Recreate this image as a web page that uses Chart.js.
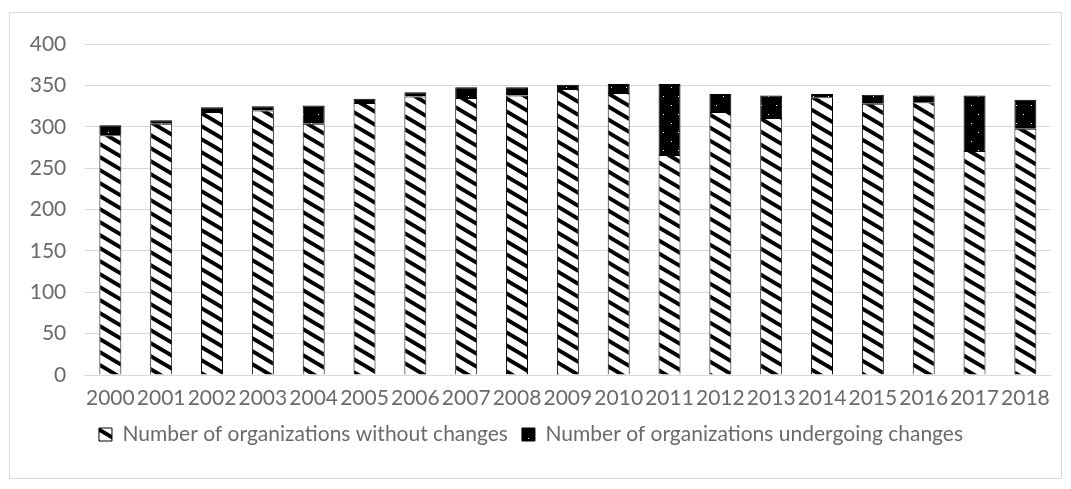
<!DOCTYPE html>
<html>
<head>
<meta charset="utf-8">
<script src="https://cdn.jsdelivr.net/npm/chart.js@4"></script>
<style>
  html, body { margin: 0; padding: 0; background: #fff; }
  #frame {
    position: absolute;
    left: 9px; top: 12px;
    width: 1053px; height: 467px;
    border: 1px solid #d9d9d9;
    box-sizing: border-box;
  }
</style>
</head>
<body>
<div id="frame"><canvas id="barChart"></canvas></div>
<script>
// values
const years = ['2000', '2001', '2002', '2003', '2004', '2005', '2006', '2007', '2008', '2009',
               '2010', '2011', '2012', '2013', '2014', '2015', '2016', '2017', '2018'];
const withoutChanges = [290, 304, 318, 320, 304, 329, 337, 335, 338, 346, 341, 266, 318, 311, 336, 328, 330, 271, 298];
const withChanges    = [12, 4, 6, 5, 22, 5, 5, 13, 10, 5, 11, 86, 22, 27, 4, 11, 8, 67, 35];
const yTicks = [0, 50, 100, 150, 200, 250, 300, 350, 400];

// wide downward diagonal hatch
function hatchPattern() {
    const c = document.createElement('canvas');
    const w = 22, h = 13;
    c.width = w; c.height = h;
    const g = c.getContext('2d');
    g.fillStyle = '#fff';
    g.fillRect(0, 0, w, h);
    g.strokeStyle = '#000';
    g.lineWidth = 4;
    for (let k = -2; k <= 2; k++) {
        g.beginPath();
        g.moveTo(-w, -h + k * h);
        g.lineTo(2 * w, 2 * h + k * h);
        g.stroke();
    }
    return g.createPattern(c, 'repeat');
}

// black with a few white dots
function dotPattern() {
    const c = document.createElement('canvas');
    const w = 15, h = 18;
    c.width = w; c.height = h;
    const g = c.getContext('2d');
    g.fillStyle = '#000';
    g.fillRect(0, 0, w, h);
    g.fillStyle = '#fff';
    g.fillRect(1, 2, 1, 1);
    g.fillRect(8, 11, 1, 1);
    return g.createPattern(c, 'repeat');
}

const textColor = '#6a6a6a';
const fontFamily = 'Lato, "Open Sans", sans-serif';

const ctx = document.getElementById('barChart').getContext('2d');
new Chart(ctx, {
    type: 'bar',
    data: {
        labels: years,
        datasets: [
            {
                label: 'Number of organizations without changes',
                data: withoutChanges,
                backgroundColor: hatchPattern(),
                borderColor: '#000',
                borderWidth: 1,
                barPercentage: 0.72,
                categoryPercentage: 0.6
            },
            {
                label: 'Number of organizations undergoing changes',
                data: withChanges,
                backgroundColor: dotPattern(),
                borderColor: '#000',
                borderWidth: 1,
                barPercentage: 0.72,
                categoryPercentage: 0.6
            }
        ]
    },
    options: {
        responsive: true,
        maintainAspectRatio: false,
        animation: false,
        layout: { padding: { left: 1, right: 10, top: 1.5, bottom: 23 } },
        plugins: {
            tooltip: { enabled: false },
            legend: {
                position: 'bottom',
                labels: {
                    color: textColor,
                    font: { family: fontFamily, size: 21 },
                    boxWidth: 13,
                    boxHeight: 13,
                    padding: 14
                }
            }
        },
        scales: {
            x: {
                stacked: true,
                grid: { display: false, drawTicks: false },
                border: { color: '#d9d9d9', width: 1 },
                afterFit: axis => { axis.height = 35; },
                ticks: {
                    color: textColor,
                    font: { family: fontFamily, size: 21 },
                    autoSkip: false,
                    maxRotation: 0,
                    padding: 11
                }
            },
            y: {
                stacked: true,
                min: 0,
                max: 400,
                afterBuildTicks: axis => { axis.ticks = yTicks.map(v => ({ value: v })); },
                grid: { color: '#d9d9d9', drawTicks: false },
                border: { display: false },
                ticks: {
                    color: textColor,
                    font: { family: fontFamily, size: 21 },
                    padding: 18.7
                }
            }
        }
    }
});
</script>
</body>
</html>
